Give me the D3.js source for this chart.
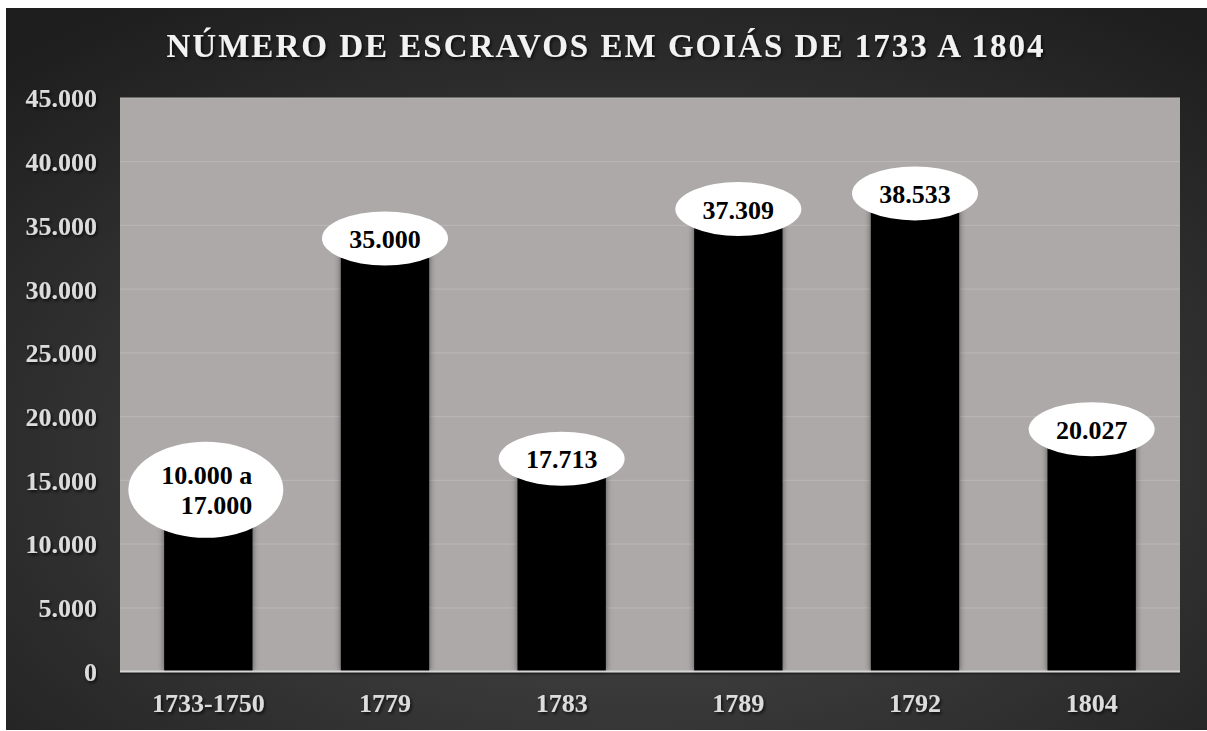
<!DOCTYPE html>
<html><head><meta charset="utf-8">
<script src="https://cdn.jsdelivr.net/npm/d3@7"></script>
<style>html,body{margin:0;padding:0;background:#fff;}svg{display:block;}</style>
</head><body>
<svg id="chart" width="1207" height="731"></svg>
<script>
const categories = ["1733-1750","1779","1783","1789","1792","1804"];
const values = [17000, 35000, 17713, 37309, 38533, 20027];
const labels = [["10.000 a","17.000"],["35.000"],["17.713"],["37.309"],["38.533"],["20.027"]];
const yTicks = [0,5000,10000,15000,20000,25000,30000,35000,40000,45000];
const title = "NÚMERO DE ESCRAVOS EM GOIÁS DE 1733 A 1804";

const W = 1207, H = 731;
const plot = {left:120, right:1180, top:98, bottom:671.5};
const font = "'Liberation Serif','Times New Roman',serif";
const svg = d3.select("#chart");
const defs = svg.append("defs");
const rg = defs.append("radialGradient").attr("id","bg").attr("cx","52%").attr("cy","62%").attr("r","75%");
rg.append("stop").attr("offset","0%").attr("stop-color","#4e4e4e");
rg.append("stop").attr("offset","100%").attr("stop-color","#1e1e1e");
const sh = defs.append("filter").attr("id","barsh").attr("x","-20%").attr("y","-10%").attr("width","140%").attr("height","120%");
sh.append("feDropShadow").attr("dx",0).attr("dy",0).attr("stdDeviation",3).attr("flood-color","#000").attr("flood-opacity",0.55);
const tsh = defs.append("filter").attr("id","txtsh").attr("x","-5%").attr("y","-30%").attr("width","110%").attr("height","160%");
tsh.append("feDropShadow").attr("dx",1.5).attr("dy",2).attr("stdDeviation",1.5).attr("flood-color","#000").attr("flood-opacity",0.7);

svg.append("rect").attr("x",6).attr("y",8).attr("width",W-6).attr("height",722).attr("fill","url(#bg)");

const x = d3.scaleBand().domain(categories).range([plot.left, plot.right]).paddingInner(0.5).paddingOuter(0.25);
const y = d3.scaleLinear().domain([0,45000]).range([plot.bottom, plot.top]);
const loc = d3.formatLocale({decimal:",", thousands:".", grouping:[3], currency:["",""]});
const fmt = loc.format(",.0f");

svg.append("rect").attr("x",plot.left).attr("y",plot.top).attr("width",plot.right-plot.left).attr("height",plot.bottom-plot.top).attr("fill","#ada9a8");

svg.append("g").selectAll("line").data(yTicks.filter(d=>d>0)).join("line")
  .attr("x1",plot.left).attr("x2",plot.right).attr("y1",d=>y(d)).attr("y2",d=>y(d))
  .attr("stroke","#b9b5b4").attr("stroke-width",1.2);

svg.append("g").selectAll("rect").data(values).join("rect")
  .attr("x",(d,i)=>x(categories[i])).attr("width",x.bandwidth())
  .attr("y",d=>y(d)).attr("height",d=>y(0)-y(d)).attr("fill","#000")
  .attr("filter","url(#barsh)");

// baseline
svg.append("line").attr("x1",plot.left).attr("x2",plot.right).attr("y1",plot.bottom+2).attr("y2",plot.bottom+2).attr("stroke","#1a1a1a").attr("stroke-width",2).attr("opacity",0.6);
svg.append("line").attr("x1",plot.left).attr("x2",plot.right).attr("y1",plot.bottom).attr("y2",plot.bottom).attr("stroke","#d6d6d6").attr("stroke-width",2);

// y axis
const yAxis = svg.append("g").attr("transform","translate(97,0)")
  .call(d3.axisLeft(y).tickValues(yTicks).tickFormat(fmt).tickSize(0).tickPadding(0));
yAxis.select(".domain").remove();
yAxis.selectAll("text").attr("font-family",font).attr("font-size",26).attr("font-weight","bold")
  .attr("fill","#dcdcdc").attr("dy","0.34em").attr("filter","url(#txtsh)");

// x axis
const xAxis = svg.append("g").attr("transform",`translate(0,${plot.bottom})`)
  .call(d3.axisBottom(x).tickSize(0));
xAxis.select(".domain").remove();
xAxis.selectAll("text").attr("y",40).attr("dy",0).attr("font-family",font).attr("font-size",26)
  .attr("font-weight","bold").attr("fill","#dcdcdc").attr("filter","url(#txtsh)");

// data labels
const lg = svg.append("g").selectAll("g").data(values).join("g")
  .attr("transform",(d,i)=>{
    const n = labels[i].length;
    const cx = x(categories[i]) + x.bandwidth()/2 - (n>1?2.5:0);
    const cy = y(d) + 13 + (n-1)*22;
    return `translate(${cx},${cy})`;
  });
lg.append("ellipse").attr("rx",(d,i)=>labels[i].length>1?77.5:63).attr("ry",(d,i)=>labels[i].length>1?48:27).attr("fill","#fff");
lg.each(function(d,i){
  const g = d3.select(this);
  const ls = labels[i];
  if (ls.length===1){
    g.append("text").attr("text-anchor","middle").attr("y",9.5).text(ls[0]);
  } else {
    ls.forEach((t,k)=>{
      g.append("text").attr("text-anchor","end").attr("x",46.5).attr("y",-5.5+k*30).text(t);
    });
  }
});
lg.selectAll("text").attr("font-family",font).attr("font-size",26).attr("font-weight","bold").attr("fill","#000");

// title
svg.append("text").attr("x",605).attr("y",57).attr("text-anchor","middle")
  .attr("textLength",877).attr("lengthAdjust","spacing")
  .attr("font-family",font).attr("font-size",33).attr("font-weight","bold")
  .attr("fill","#f2f2f2").attr("filter","url(#txtsh)").text(title);
</script>
</body></html>
